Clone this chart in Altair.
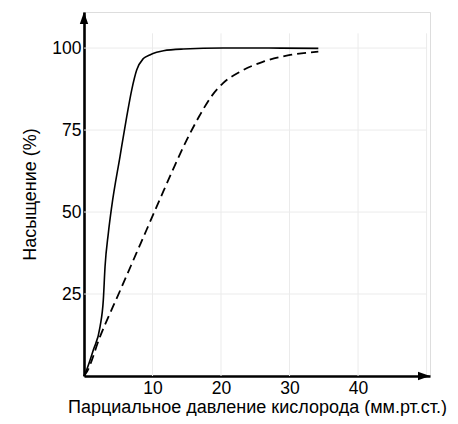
import altair as alt
import pandas as pd

# Axis extents (arrow tips)
x_axis_max = 50.5
y_axis_max = 111

x_ticks = [10, 20, 30, 40]
y_ticks = [25, 50, 75, 100]

# Grid
grid_x = [10, 20, 30, 40, 50]
grid_y = [25, 50, 75, 100]
grid_x_top = 104.5
grid_y_right = 50

# Solid curve
solid_x = [0, 0.5, 1.36, 2.34, 2.82, 3.07, 3.55, 4.04, 5.26, 6.23, 6.96, 7.69, 8.66, 9.6, 10.6, 11.6, 14.5, 20.3, 27, 34.2]
solid_y = [0, 2.5, 7.9, 15, 23.2, 33.3, 43.5, 51.6, 67, 79, 87.2, 93.3, 96.8, 97.9, 98.7, 99.2, 99.7, 100, 100, 99.9]

# Dashed curve
dash_x = [0, 0.4, 2.34, 5.26, 8.18, 11.1, 13.0, 15.0, 16.9, 18.5, 20.3, 22.8, 26.1, 30.1, 34.2]
dash_y = [0, 1.2, 12, 26, 40, 54, 63, 72, 79.5, 85, 89.3, 92.8, 95.8, 97.9, 98.9]

FONT = "Liberation Sans"
LFS = 17.5
TFS = 18

xs = alt.Scale(domain=[0, x_axis_max], nice=False, zero=True)
ys = alt.Scale(domain=[0, y_axis_max], nice=False, zero=True)

solid_df = pd.DataFrame({"x": solid_x, "y": solid_y})
dash_df = pd.DataFrame({"x": dash_x, "y": dash_y})
vgrid = pd.DataFrame({"x": grid_x, "y0": [0] * len(grid_x), "y1": [grid_x_top] * len(grid_x)})
hgrid = pd.DataFrame({"y": grid_y, "x0": [0] * len(grid_y), "x1": [grid_y_right] * len(grid_y)})

x_axis = alt.Axis(values=x_ticks, title="Парциальное давление кислорода (мм.рт.ст.)",
                  grid=False, ticks=False, domainColor="black", domainWidth=2.6,
                  labelFont=FONT, labelFontSize=LFS, labelColor="black", labelPadding=3,
                  titleFont=FONT, titleFontSize=TFS, titleFontWeight="normal", titleColor="black",
                  titlePadding=1.5, labelFlush=False)
y_axis = alt.Axis(values=y_ticks, title="Насыщение (%)",
                  grid=False, ticks=False, domainColor="black", domainWidth=2.6,
                  labelFont=FONT, labelFontSize=LFS, labelColor="black", labelPadding=3,
                  titleFont=FONT, titleFontSize=TFS, titleFontWeight="normal", titleColor="black",
                  titlePadding=12, labelFlush=False)

gridcol = "#ebebeb"
vg = alt.Chart(vgrid).mark_rule(color=gridcol, strokeWidth=1).encode(
    x=alt.X("x:Q", scale=xs, axis=x_axis), y=alt.Y("y0:Q", scale=ys, axis=y_axis), y2="y1:Q")
hg = alt.Chart(hgrid).mark_rule(color=gridcol, strokeWidth=1).encode(
    y=alt.Y("y:Q", scale=ys), x=alt.X("x0:Q", scale=xs), x2="x1:Q")

solid = alt.Chart(solid_df).mark_line(color="black", strokeWidth=1.6, interpolate="monotone").encode(
    x=alt.X("x:Q", scale=xs), y=alt.Y("y:Q", scale=ys))
dashed = alt.Chart(dash_df).mark_line(color="black", strokeWidth=1.8, interpolate="monotone",
                                      strokeDash=[9, 5]).encode(
    x=alt.X("x:Q", scale=xs), y=alt.Y("y:Q", scale=ys))

up_arrow = alt.Chart(pd.DataFrame({"x": [0], "y": [y_axis_max]})).mark_point(
    shape="M0,0L0.35,1L-0.35,1Z", size=576, filled=True, color="black", opacity=1, strokeWidth=0).encode(
    x=alt.X("x:Q", scale=xs), y=alt.Y("y:Q", scale=ys))
right_arrow = alt.Chart(pd.DataFrame({"x": [x_axis_max], "y": [0]})).mark_point(
    shape="M0,0L-1,-0.35L-1,0.35Z", size=576, filled=True, color="black", opacity=1, strokeWidth=0).encode(
    x=alt.X("x:Q", scale=xs), y=alt.Y("y:Q", scale=ys))

chart = alt.layer(vg, hg, dashed, solid, up_arrow, right_arrow).properties(
    width=346, height=364,
    autosize=alt.AutoSizeParams(type="none"),
    padding={"left": 76, "top": 4, "right": 20, "bottom": 40},
).configure_view(stroke=None).configure(background="white")

chart.save("out.html", embed_options={"renderer": "svg", "actions": False})
